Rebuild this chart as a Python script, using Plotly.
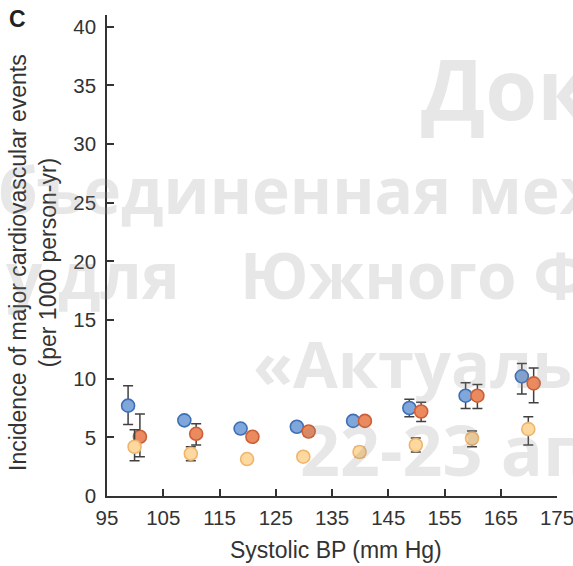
import plotly.graph_objects as go

# Systolic BP category midpoints (mm Hg)
sbp_groups = [100, 110, 120, 130, 140, 150, 160, 170]

# Incidence per 1000 person-yr with 95% CI, three cohorts
blue_rate = [7.7, 6.45, 5.75, 5.9, 6.4, 7.5, 8.55, 10.2]
blue_lo = [6.1, 6.15, 5.45, 5.6, 6.15, 6.75, 7.45, 8.7]
blue_hi = [9.4, 6.75, 6.05, 6.2, 6.65, 8.25, 9.65, 11.3]

orange_rate = [5.05, 5.3, 5.05, 5.5, 6.4, 7.2, 8.55, 9.6]
orange_lo = [3.35, 4.35, 4.75, 5.1, 6.1, 6.35, 7.45, 7.95]
orange_hi = [7.0, 6.15, 5.35, 5.9, 6.75, 8.0, 9.5, 10.9]

light_rate = [4.2, 3.6, 3.15, 3.35, 3.75, 4.35, 4.9, 5.7]
light_lo = [3.0, 3.0, 2.9, 3.05, 3.35, 3.75, 4.2, 4.35]
light_hi = [5.65, 4.2, 3.4, 3.65, 4.15, 4.95, 5.55, 6.75]

x_ticks = [95, 105, 115, 125, 135, 145, 155, 165, 175]
y_ticks = [0, 5, 10, 15, 20, 25, 30, 35, 40]

# watermark text fragments
wm_lines = ["Доклад", "бъединенная межрегиональная", "у", "для", "Южного Федерального",
            "«Актуальные", "22-23 апреля"]

W, H = 573, 566
L, R, T, B = 107, 16, 15, 70
PW, PH = W - L - R, H - T - B

def px_x(p):
    return (p - L) / PW

def px_y(p):
    return (H - B - p) / PH

FONT = "Liberation Sans, Arial, sans-serif"
TXT = "#333333"

series = [
    (blue_rate, blue_lo, blue_hi, -1.25, "#7fa7dc", "#3d6fb5"),
    (orange_rate, orange_lo, orange_hi, 0.85, "#ea8a5e", "#cc5f36"),
    (light_rate, light_lo, light_hi, -0.1, "#fdd9a0", "#efb56c"),
]

fig = go.Figure()
for rate, lo, hi, dx, fill, edge in series:
    fig.add_trace(go.Scatter(
        x=[g + dx for g in sbp_groups],
        y=rate,
        mode="markers",
        marker=dict(size=13, color=fill, line=dict(color=edge, width=1.6)),
        error_y=dict(type="data", symmetric=False,
                     array=[h - r for h, r in zip(hi, rate)],
                     arrayminus=[r - l for r, l in zip(rate, lo)],
                     color="#404040", thickness=1.5, width=5),
        showlegend=False,
        hoverinfo="skip",
    ))

axis_common = dict(
    showline=True, linecolor=TXT, linewidth=1.5,
    ticks="inside", ticklen=7, tickwidth=1.5, tickcolor=TXT,
    showgrid=False, zeroline=False, automargin=False,
    tickfont=dict(family=FONT, size=20.5, color=TXT),
)

fig.update_xaxes(range=[95, 175], tickvals=x_ticks, ticklabelstandoff=3,
                 ticklabeloverflow="allow", **axis_common)
fig.update_yaxes(range=[0, 41], tickvals=y_ticks, ticklabelstandoff=5, **axis_common)

annotations = [
    dict(text="<b>C</b>", x=px_x(17), y=px_y(19), xref="paper", yref="paper",
         showarrow=False, font=dict(family=FONT, size=23, color="#222222"),
         xanchor="center", yanchor="middle"),
    dict(text="Systolic BP (mm Hg)", x=px_x(336), y=px_y(550), xref="paper", yref="paper",
         showarrow=False, font=dict(family=FONT, size=23, color=TXT),
         xanchor="center", yanchor="middle"),
    dict(text="Incidence of major cardiovascular events<br>(per 1000 person-yr)",
         x=px_x(33), y=px_y(263), xref="paper", yref="paper", textangle=-90,
         showarrow=False, font=dict(family=FONT, size=23, color=TXT),
         xanchor="center", yanchor="middle"),
]

wm_font = "Open Sans, Noto Sans, sans-serif"
wm_color = "rgba(140,140,140,0.21)"
wm_pos = [(419, 88, 84), (-4, 189, 64), (4, 274, 64), (56, 274, 64), (238, 274, 64),
          (251, 363, 65), (298, 449, 70)]
for txt, (xp, yp, fs) in zip(wm_lines, wm_pos):
    annotations.append(dict(
        text="<b>" + txt + "</b>", x=px_x(xp), y=px_y(yp), xref="paper", yref="paper",
        showarrow=False, xanchor="left", yanchor="middle",
        font=dict(family=wm_font, size=fs, color=wm_color),
    ))

fig.update_layout(
    width=W, height=H,
    margin=dict(l=L, r=R, t=T, b=B),
    paper_bgcolor="white", plot_bgcolor="white",
    annotations=annotations,
)

fig.write_html("out.html")
